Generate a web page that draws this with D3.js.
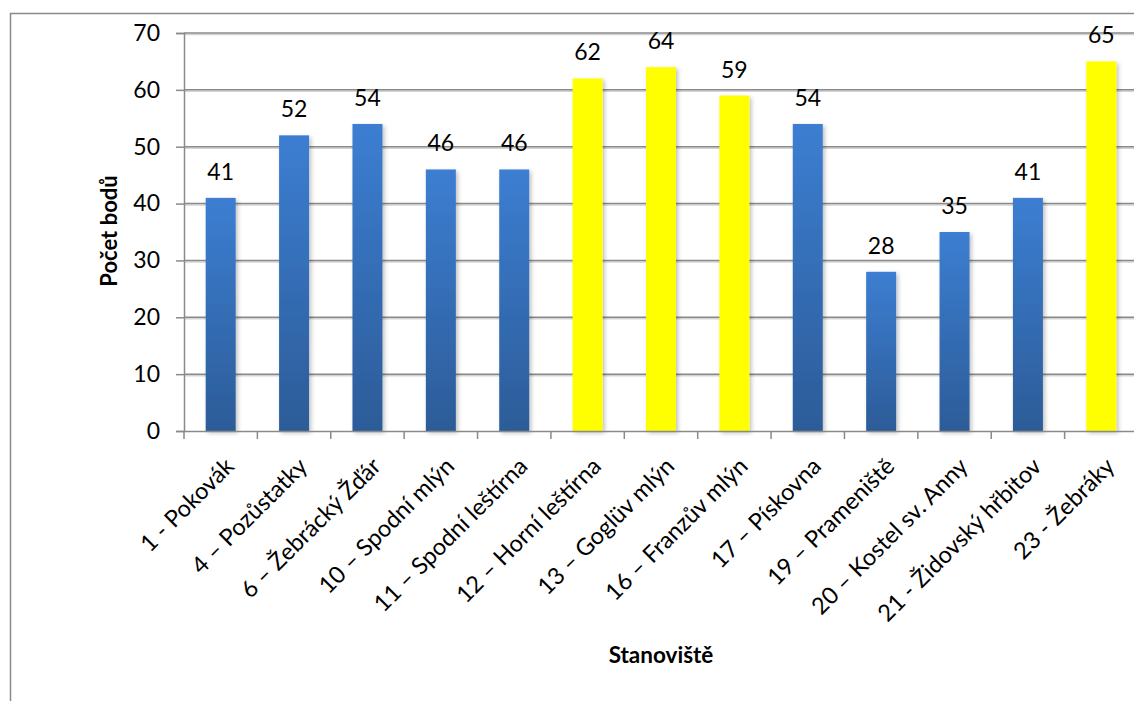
<!DOCTYPE html>
<html>
<head>
<meta charset="utf-8">
<script src="https://cdn.jsdelivr.net/npm/d3@7"></script>
<style>
  body { margin: 0; background: #fff; }
  svg { display: block; font-family: Lato, "Open Sans", sans-serif; }
</style>
</head>
<body>
<svg id="chart" width="1134" height="701"></svg>
<script>
// data
const stations = ["1 - Pokovák", "4 – Pozůstatky", "6 – Žebrácký Žďár", "10 – Spodní mlýn",
  "11 – Spodní leštírna", "12 – Horní leštírna", "13 – Goglüv mlýn", "16 – Franzův mlýn",
  "17 – Pískovna", "19 – Prameniště", "20 – Kostel sv. Anny", "21 - Židovský hřbitov", "23 - Žebráky"];
const points = [41, 52, 54, 46, 46, 62, 64, 59, 54, 28, 35, 41, 65];
const highlighted = [false, false, false, false, false, true, true, true, false, false, false, false, true];
const yTicks = [0, 10, 20, 30, 40, 50, 60, 70];

const svg = d3.select("#chart");
const plotLeft = 184, plotRight = 1138, plotTop = 33, plotBottom = 431;

// outer frame of the chart (cut off at right and bottom)
svg.append("rect")
  .attr("x", 10.5).attr("y", 13.5)
  .attr("width", 1300).attr("height", 900)
  .attr("fill", "none").attr("stroke", "#8a8a8a").attr("stroke-width", 1.5);

const defs = svg.append("defs");
let grad = defs.append("linearGradient")
  .attr("id", "blueGrad").attr("x1", 0).attr("y1", 0).attr("x2", 0).attr("y2", 1);
grad.append("stop").attr("offset", "0%").attr("stop-color", "#3c7ed2");
grad.append("stop").attr("offset", "100%").attr("stop-color", "#2c5c98");

let shadow = defs.append("filter").attr("id", "shadow")
  .attr("x", "-30%").attr("y", "-10%").attr("width", "160%").attr("height", "130%");
shadow.append("feDropShadow")
  .attr("dx", 2).attr("dy", 2).attr("stdDeviation", 2)
  .attr("flood-color", "#000").attr("flood-opacity", 0.25);

let x = d3.scaleBand().domain(stations).range([plotLeft, plotRight]).paddingInner(0).paddingOuter(0);
let y = d3.scaleLinear().domain([0, 70]).range([plotBottom, plotTop]);

// gridlines
let grid = svg.append("g");
grid.selectAll("line.shade")
  .data(yTicks.slice(1))
  .enter()
  .append("line")
  .attr("x1", plotLeft).attr("x2", plotRight)
  .attr("y1", d => y(d) + 1.5).attr("y2", d => y(d) + 1.5)
  .attr("stroke", "#d4d4d4").attr("stroke-width", 1.5);
grid.selectAll("line.main")
  .data(yTicks.slice(1))
  .enter()
  .append("line")
  .attr("x1", plotLeft).attr("x2", plotRight)
  .attr("y1", d => y(d)).attr("y2", d => y(d))
  .attr("stroke", "#8a8a8a").attr("stroke-width", 1.5);

// y axis
let yAxis = svg.append("g")
  .attr("transform", `translate(${plotLeft},0)`)
  .call(d3.axisLeft(y).tickValues(yTicks).tickSize(8).tickPadding(16));
yAxis.select(".domain").attr("stroke", "#8a8a8a").attr("stroke-width", 1.5);
yAxis.selectAll(".tick line").attr("stroke", "#8a8a8a").attr("stroke-width", 1.5);
yAxis.selectAll("text")
  .attr("font-size", 23).attr("fill", "#000")
  .attr("font-family", "Lato, sans-serif");

// bars
const barW = 30;
svg.append("g").selectAll("rect")
  .data(points)
  .enter()
  .append("rect")
  .attr("x", (d, i) => x(stations[i]) + x.bandwidth() / 2 - barW / 2)
  .attr("y", d => y(d))
  .attr("width", barW)
  .attr("height", d => y(0) - y(d))
  .attr("fill", (d, i) => highlighted[i] ? "#ffff00" : "url(#blueGrad)")
  .attr("filter", "url(#shadow)");

// x axis
let xAxis = svg.append("g")
  .attr("transform", `translate(0,${plotBottom})`)
  .call(d3.axisBottom(x).tickSize(0).tickFormat(""));
xAxis.select(".domain").attr("stroke", "#8a8a8a").attr("stroke-width", 1.5);
xAxis.selectAll(".tick").remove();
xAxis.selectAll("line.sep")
  .data(stations)
  .enter()
  .append("line")
  .attr("x1", d => x(d)).attr("x2", d => x(d))
  .attr("y1", 0).attr("y2", 8)
  .attr("stroke", "#8a8a8a").attr("stroke-width", 1.5);

// category labels, rotated
svg.append("g").selectAll("text")
  .data(stations)
  .enter()
  .append("text")
  .attr("transform", d => `translate(${x(d) + x.bandwidth() / 2 + 9},${plotBottom + 31}) rotate(-45)`)
  .attr("text-anchor", "end")
  .attr("dy", "0.35em")
  .attr("font-size", 23.5)
  .attr("fill", "#000")
  .text(d => d);

// value labels
svg.append("g").selectAll("text")
  .data(points)
  .enter()
  .append("text")
  .attr("x", (d, i) => x(stations[i]) + x.bandwidth() / 2)
  .attr("y", d => y(d) - 18)
  .attr("text-anchor", "middle")
  .attr("font-size", 23)
  .attr("fill", "#000")
  .text(d => d);

// axis titles
svg.append("text")
  .attr("transform", "translate(117,231) rotate(-90)")
  .attr("text-anchor", "middle")
  .attr("font-size", 22).attr("font-weight", "bold")
  .text("Počet bodů");

svg.append("text")
  .attr("x", 661).attr("y", 663)
  .attr("text-anchor", "middle")
  .attr("font-size", 22.5).attr("font-weight", "bold")
  .text("Stanoviště");
</script>
</body>
</html>
